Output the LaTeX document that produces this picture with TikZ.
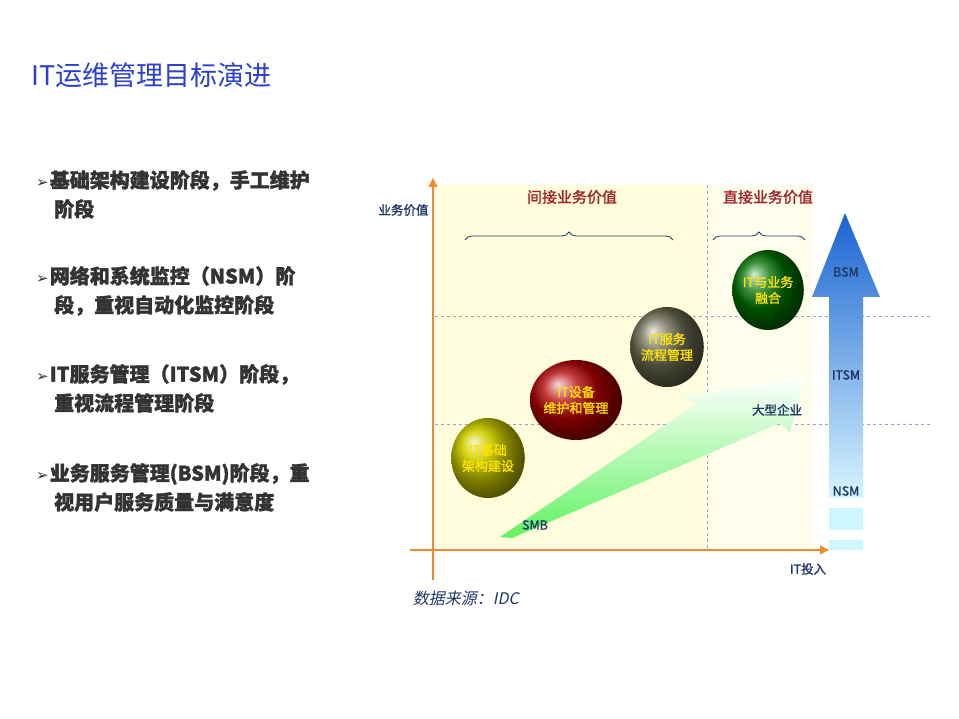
\documentclass[tikz,border=0pt]{standalone}
\usepackage{amssymb}
\usepackage{fontspec}
\setmainfont{Liberation Serif}
\newfontfamily\cjk{Noto Sans CJK SC}
\newfontfamily\cjkb{Noto Sans CJK SC}[FakeBold=1.5]
\newfontfamily\djv{DejaVu Sans}
\usetikzlibrary{shapes.geometric,decorations.pathreplacing,arrows.meta}
\definecolor{titleblue}{HTML}{2B3FD0}
\definecolor{txt}{HTML}{333333}
\definecolor{axor}{HTML}{F08A2C}
\definecolor{redlbl}{HTML}{A0222A}
\definecolor{navy}{HTML}{1F3864}
\newcommand{\bul}{{\djv\fontsize{15}{15}\selectfont ➢}\hspace{1pt}}
\tikzset{
  bullet/.style={anchor=north west,align=left,font=\fontsize{20}{29}\selectfont\bfseries\cjkb,text=txt,inner sep=0},
  ball/.style={ellipse,minimum width=70pt,minimum height=80pt,inner sep=0,align=center,
     font=\fontsize{13}{16}\selectfont\cjkb,text=yellow!85!orange},
  dashln/.style={draw=blue!25!gray!60,dashed,line width=1pt},
  lbl/.style={font=\fontsize{12.5}{14}\selectfont\cjkb,text=navy},
}
\begin{document}
\begin{tikzpicture}[x=1pt,y=-1pt]
\useasboundingbox[fill=white] (0,0) rectangle (959,719);
\node[anchor=west,text=titleblue,font=\fontsize{27}{30}\selectfont\cjk] (title) at (28,75) {IT运维管理目标演进};
\node[bullet] (b1) at (36,170) {\bul 基础架构建设阶段，手工维护\\\hspace{18pt}阶段};
\node[bullet] (b2) at (36,266) {\bul 网络和系统监控（NSM）阶\\\hspace{18pt}段，重视自动化监控阶段};
\node[bullet] (b3) at (36,364) {\bul IT服务管理（ITSM）阶段，\\\hspace{18pt}重视流程管理阶段};
\node[bullet] (b4) at (36,463) {\bul 业务服务管理(BSM)阶段，重\\\hspace{18pt}视用户服务质量与满意度};
% background
\fill[yellow!14] (435,185) rectangle (813,548);
\fill[yellow!7] (707,185) rectangle (813,548);
\draw[dashln] (435,317) -- (930,317);
\draw[dashln] (435,424) -- (930,424);
\draw[dashln,line width=0.6pt] (707,185) -- (707,548);
% axes
\coordinate (yb) at (433,580); \coordinate (yt) at (433,177);
\coordinate (xl) at (410,550); \coordinate (xr) at (830,550);
\draw[axor,line width=2.5pt,-{Latex[length=10pt,width=10pt]}] (yb) -- (yt);
\draw[axor,line width=2.5pt,-{Latex[length=10pt,width=10pt]}] (xl) -- (xr);
\node[lbl,anchor=east] (yl) at (432,210) {业务价值};
\node[lbl] (xlab) at (808,569) {IT投入};
\node[font=\fontsize{16}{18}\selectfont\cjk,text=navy,xslant=0.2] (src) at (467,598) {数据来源：IDC};
% braces
\node[font=\fontsize{15}{16}\selectfont\cjkb,text=redlbl] (ind) at (572,197) {间接业务价值};
\node[font=\fontsize{15}{16}\selectfont\cjkb,text=redlbl] (dir) at (768,197) {直接业务价值};
\draw[navy,line width=0.8pt,decorate,decoration={brace,amplitude=8pt}] (465,240) -- (673,240);
\draw[navy,line width=0.8pt,decorate,decoration={brace,amplitude=8pt}] (713,240) -- (805,240);
% green arrow
\shade[left color=white,right color=green!60!white!95!black,shading angle=0]
 (500,537) -- (698,403) -- (680,397) -- (805,377) -- (790,433) -- (780,423) -- (512,538) -- cycle;
\node[lbl] (smb) at (535,525) {SMB};
\node[lbl] (big) at (777,410) {大型企业};
% balls
\node[ball,ball color=yellow!55!olive] (n1) at (488,458) {IT基础\\架构建设};
\node[ball,ball color=red!70!black] (n2) at (576,400) {IT设备\\维护和管理};
\node[ball,ball color=gray!70!black!90!yellow] (n3) at (667,347) {IT服务\\流程管理};
\node[ball,ball color=green!45!black] (n4) at (768,290) {IT与业务\\融合};
% blue arrow
\shade[top color=blue!60!cyan!80!black!90,bottom color=blue!25!cyan!15]
 (829,498) -- (829,297) -- (812,297) -- (845,213) -- (880,297) -- (863,297) -- (863,498) -- cycle;
\fill[blue!15!cyan!20] (829,508) rectangle (863,530);
\fill[blue!15!cyan!20] (829,540) rectangle (863,550);
\node[lbl] (bsm) at (846,272) {BSM};
\node[lbl] (itsm) at (846,375) {ITSM};
\node[lbl] (nsm) at (846,491) {NSM};
\end{tikzpicture}
\end{document}
